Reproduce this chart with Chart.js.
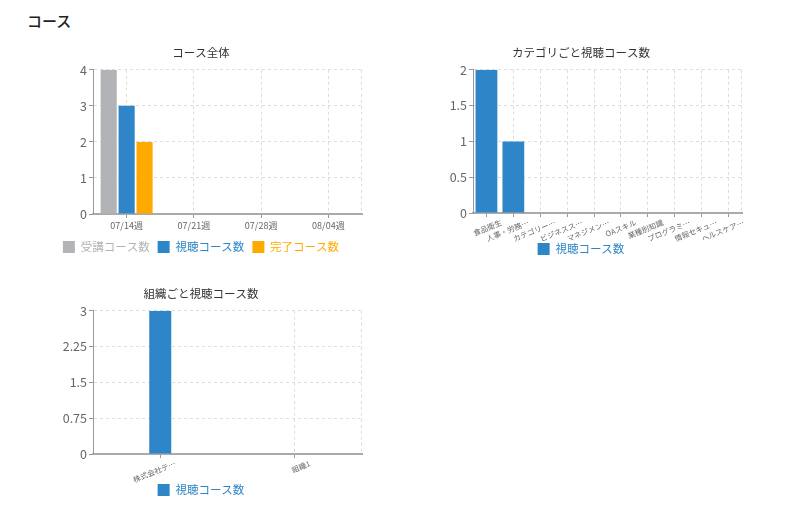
<!DOCTYPE html>
<html>
<head>
    <meta charset="UTF-8">
    <script src="https://cdn.jsdelivr.net/npm/chart.js@4.4.1/dist/chart.umd.min.js"></script>
    <title>コース</title>
    <style>
        body { margin: 0; background: #fff; font-family: "Noto Sans CJK JP", "Noto Sans", sans-serif; }
        h2 { position: absolute; left: 27px; top: 10px; margin: 0; font-size: 15px; font-weight: 500; color: #222; }
        .box { position: absolute; }
    </style>
</head>
<body>
    <h2>コース</h2>
    <div class="box" style="left:40px; top:36px; width:330px; height:227px;"><canvas id="chartAll"></canvas></div>
    <div class="box" style="left:420px; top:36px; width:328px; height:229px;"><canvas id="chartCategory"></canvas></div>
    <div class="box" style="left:40px; top:277px; width:330px; height:229px;"><canvas id="chartOrg"></canvas></div>
    <script type="text/javascript">
        const weekLabels = ['07/14週', '07/21週', '07/28週', '08/04週'];
        const enrolledCourses = [4, 0, 0, 0];
        const viewedCourses = [3, 0, 0, 0];
        const completedCourses = [2, 0, 0, 0];

        const categoryLabels = ['食品衛生', '人事・労務…', 'カテゴリー…', 'ビジネスス…', 'マネジメン…', 'OAスキル', '業種別知識', 'プログラミ…', '情報セキュ…', 'ヘルスケア…'];
        const categoryViews = [2, 1, 0, 0, 0, 0, 0, 0, 0, 0];

        const orgLabels = ['株式会社テ…', '組織1'];
        const orgViews = [3, 0];

        const FONT = '"Noto Sans CJK JP", "Noto Sans", sans-serif';
        const GRAY = '#b1b3b6';
        const BLUE = '#2e86c8';
        const ORANGE = '#ffaa00';

        // dashed line on the right edge of the plot
        const rightEdge = {
            id: 'rightEdge',
            beforeDatasetsDraw(chart) {
                const a = chart.chartArea;
                const ctx = chart.ctx;
                ctx.save();
                ctx.strokeStyle = '#ddd';
                ctx.setLineDash([3, 3]);
                ctx.beginPath();
                ctx.moveTo(a.right - 0.5, a.top);
                ctx.lineTo(a.right - 0.5, a.bottom);
                ctx.stroke();
                ctx.restore();
            }
        };

        function makeOptions(title, yMax, yStep, rotate, padRight, xHeight, legendPad) {
            return {
                responsive: true,
                maintainAspectRatio: false,
                animation: false,
                layout: { padding: { right: padRight } },
                plugins: {
                    title: { display: true, text: title, color: '#333', font: { family: FONT, size: 11.5, weight: 'normal' } },
                    legend: {
                        position: 'bottom',
                        labels: {
                            boxWidth: 12, boxHeight: 12, padding: legendPad,
                            font: { family: FONT, size: 11.5 },
                            generateLabels(chart) {
                                const items = Chart.defaults.plugins.legend.labels.generateLabels(chart);
                                items.forEach(it => { it.fontColor = it.fillStyle; it.lineWidth = 0; });
                                return items;
                            }
                        }
                    },
                    tooltip: { enabled: false }
                },
                scales: {
                    x: {
                        afterFit(scale) {
                            scale.height = xHeight;
                            // let rotated labels run past the axis box
                            scale._computeLabelArea = () => null;
                        },
                        grid: { offset: false, color: '#ddd', tickLength: 4, tickColor: '#999' },
                        border: { color: '#aaa', width: 2, dash: [3, 3] },
                        ticks: {
                            color: '#666', padding: rotate ? 1 : 2,
                            font: { family: FONT, size: rotate ? 7.5 : 9 },
                            autoSkip: false,
                            labelOffset: rotate ? 15 : 0,
                            minRotation: rotate, maxRotation: rotate
                        }
                    },
                    y: {
                        min: 0, max: yMax,
                        afterFit(scale) { scale.width = 53; },
                        grid: { color: '#ddd', tickLength: 4, tickColor: '#999' },
                        border: { color: '#999', width: 1, dash: [3, 3] },
                        ticks: {
                            stepSize: yStep, color: '#666', padding: 2,
                            font: { family: FONT, size: 12.5 },
                            callback: v => String(+v.toFixed(2))
                        }
                    }
                }
            };
        }

        new Chart(document.getElementById('chartAll'), {
            type: 'bar',
            data: {
                labels: weekLabels,
                datasets: [
                    { label: '受講コース数', data: enrolledCourses, backgroundColor: GRAY },
                    { label: '視聴コース数', data: viewedCourses, backgroundColor: BLUE },
                    { label: '完了コース数', data: completedCourses, backgroundColor: ORANGE }
                ]
            },
            options: makeOptions('コース全体', 4, 1, 0, 8, 19, 8),
            plugins: [rightEdge]
        });

        new Chart(document.getElementById('chartCategory'), {
            type: 'bar',
            data: {
                labels: categoryLabels,
                datasets: [
                    { label: '視聴コース数', data: categoryViews, backgroundColor: BLUE, barPercentage: 0.9, categoryPercentage: 0.9 }
                ]
            },
            options: makeOptions('カテゴリごと視聴コース数', 2, 0.5, 22, 6, 28, 2),
            plugins: [rightEdge]
        });

        new Chart(document.getElementById('chartOrg'), {
            type: 'bar',
            data: {
                labels: orgLabels,
                datasets: [
                    { label: '視聴コース数', data: orgViews, backgroundColor: BLUE, maxBarThickness: 22 }
                ]
            },
            options: makeOptions('組織ごと視聴コース数', 3, 0.75, 22, 8, 28, 2),
            plugins: [rightEdge]
        });
    </script>
</body>
</html>
